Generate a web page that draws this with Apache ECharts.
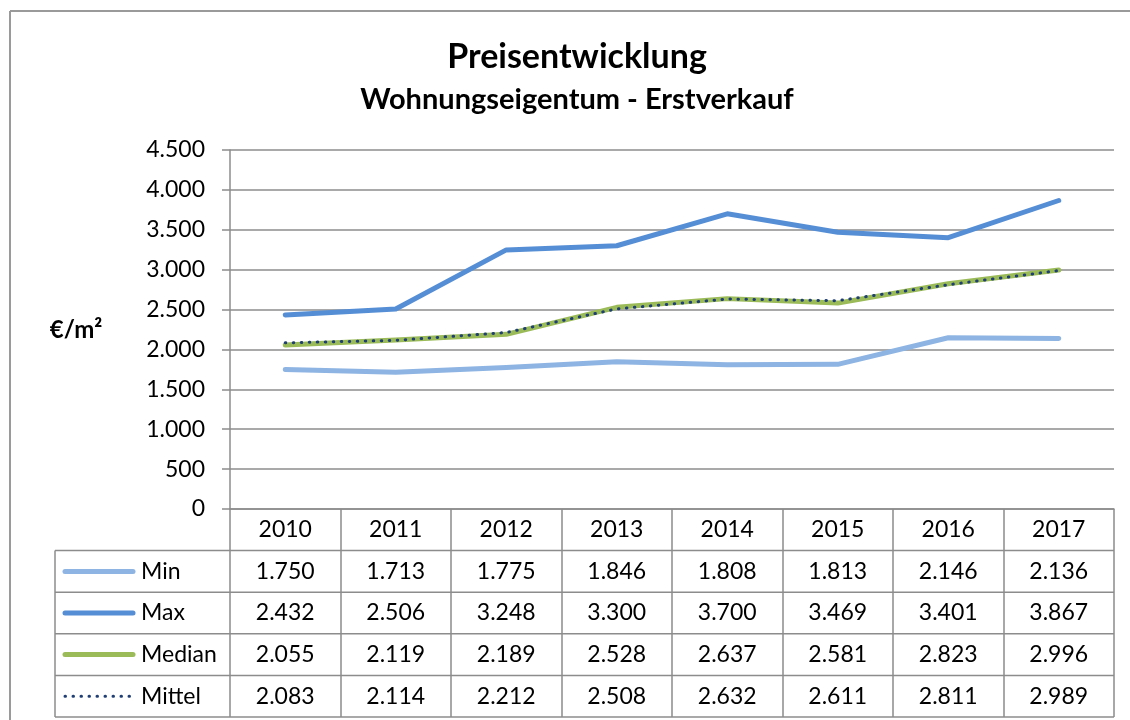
<!DOCTYPE html>
<html>
<head>
<meta charset="utf-8">
<script src="https://cdn.jsdelivr.net/npm/echarts@6/dist/echarts.min.js"></script>
<style>
  html, body { margin: 0; padding: 0; background: #fff; }
  #main { width: 1130px; height: 720px; }
</style>
</head>
<body>
<div id="main"></div>
<script>
// Price data (€/m²) for new-build condominiums, first sale
const years = ['2010', '2011', '2012', '2013', '2014', '2015', '2016', '2017'];
const minVals = [1750, 1713, 1775, 1846, 1808, 1813, 2146, 2136];
const maxVals = [2432, 2506, 3248, 3300, 3700, 3469, 3401, 3867];
const medianVals = [2055, 2119, 2189, 2528, 2637, 2581, 2823, 2996];
const mittelVals = [2083, 2114, 2212, 2508, 2632, 2611, 2811, 2989];
const seriesNames = ['Min', 'Max', 'Median', 'Mittel'];

const yMin = 0, yMax = 4500, yStep = 500;

const FONT = 'Lato, "Open Sans", "Liberation Sans", sans-serif';
const GRID_COLOR = '#8c8c8c';
const ROW_H = 41.6;
const TXT = 23;

// German thousands separator: 4500 -> "4.500"
function fmt(v) {
  return String(v).replace(/\B(?=(\d{3})+(?!\d))/g, '.');
}

const styles = {
  Min:    { color: '#8DB4E2', width: 5, dash: 'solid' },
  Max:    { color: '#558ED5', width: 5, dash: 'solid' },
  Median: { color: '#9BBB59', width: 5, dash: 'solid' },
  Mittel: { color: '#1F3F74', width: 3, dash: [0.5, 7.5] }
};
const valueRows = [minVals, maxVals, medianVals, mittelVals];

const chart = echarts.init(document.getElementById('main'), null, { renderer: 'canvas' });

const option = {
  animation: false,
  backgroundColor: '#fff',
  textStyle: { fontFamily: FONT },
  grid: { left: 230, right: 16, top: 150, bottom: 211, containLabel: false },
  xAxis: {
    type: 'category',
    data: years,
    boundaryGap: true,
    axisLine: { show: true, lineStyle: { color: GRID_COLOR, width: 1.5 } },
    axisTick: { show: true, inside: false, length: ROW_H * 5, lineStyle: { color: GRID_COLOR, width: 1.5 } },
    axisLabel: { margin: 9, fontSize: TXT, color: '#000', fontFamily: FONT },
    splitLine: { show: false }
  },
  yAxis: {
    type: 'value',
    min: yMin, max: yMax, interval: yStep,
    axisLine: { show: true, lineStyle: { color: GRID_COLOR, width: 1.5 } },
    axisTick: { show: true, inside: false, length: 8, lineStyle: { color: GRID_COLOR, width: 1.5 } },
    axisLabel: { margin: 25, fontSize: TXT, color: '#000', fontFamily: FONT, formatter: v => fmt(v) },
    splitLine: { show: true, lineStyle: { color: GRID_COLOR, width: 1.5 } }
  },
  series: seriesNames.map((name, i) => ({
    name,
    type: 'line',
    data: valueRows[i],
    symbol: 'none',
    smooth: false,
    z: 2 + i,
    lineStyle: {
      color: styles[name].color,
      width: styles[name].width,
      type: styles[name].dash,
      cap: 'round',
      join: 'round'
    },
    itemStyle: { color: styles[name].color }
  }))
};

chart.setOption(option);

// Data table under the plot, aligned to the category axis columns
function buildOverlay() {
  const plotBottom = chart.convertToPixel({ yAxisIndex: 0 }, yMin);
  const c0 = chart.convertToPixel({ xAxisIndex: 0 }, 0);
  const c1 = chart.convertToPixel({ xAxisIndex: 0 }, 1);
  const band = c1 - c0;
  const plotLeft = c0 - band / 2;
  const plotRight = plotLeft + band * years.length;
  const tableLeft = 55;
  const els = [];

  // frame of the chart area
  els.push({ type: 'line', shape: { x1: 10, y1: 11, x2: 1130, y2: 11 }, style: { stroke: '#9a9a9a', lineWidth: 2 }, silent: true });
  els.push({ type: 'line', shape: { x1: 10, y1: 11, x2: 10, y2: 720 }, style: { stroke: '#9a9a9a', lineWidth: 2 }, silent: true });

  // titles
  els.push({ type: 'text', x: 577, y: 57, style: { text: 'Preisentwicklung', font: 'bold 34px ' + FONT, fill: '#000', align: 'center', verticalAlign: 'middle' } });
  els.push({ type: 'text', x: 577, y: 100, style: { text: 'Wohnungseigentum - Erstverkauf', font: 'bold 29px ' + FONT, fill: '#000', align: 'center', verticalAlign: 'middle' } });
  // axis name
  els.push({ type: 'text', x: 76, y: 330, style: { text: '€/m²', font: 'bold 24px ' + FONT, fill: '#000', align: 'center', verticalAlign: 'middle' } });

  // row lines
  for (let k = 1; k <= seriesNames.length + 1; k++) {
    const y = plotBottom + ROW_H * k;
    els.push({ type: 'line', shape: { x1: tableLeft, y1: y, x2: plotRight, y2: y }, style: { stroke: GRID_COLOR, lineWidth: 1.5 }, silent: true });
  }
  els.push({ type: 'line', shape: { x1: tableLeft, y1: plotBottom + ROW_H, x2: tableLeft, y2: plotBottom + ROW_H * (seriesNames.length + 1) }, style: { stroke: GRID_COLOR, lineWidth: 1.5 }, silent: true });

  seriesNames.forEach((name, r) => {
    const yc = plotBottom + ROW_H * (r + 1) + ROW_H / 2;
    const st = styles[name];
    // legend key
    els.push({
      type: 'line',
      shape: { x1: 65, y1: yc, x2: 133, y2: yc },
      style: {
        stroke: st.color,
        lineWidth: name === 'Mittel' ? 3 : 5,
        lineCap: 'round',
        lineDash: name === 'Mittel' ? [0.5, 7.5] : null
      },
      silent: true
    });
    els.push({ type: 'text', x: 141, y: yc, style: { text: name, font: TXT + 'px ' + FONT, fill: '#000', align: 'left', verticalAlign: 'middle' } });
    // values
    valueRows[r].forEach((v, i) => {
      const xc = chart.convertToPixel({ xAxisIndex: 0 }, i);
      els.push({ type: 'text', x: xc, y: yc, style: { text: fmt(v), font: TXT + 'px ' + FONT, fill: '#000', align: 'center', verticalAlign: 'middle' } });
    });
  });

  chart.setOption({ graphic: { elements: els } });
}

buildOverlay();
</script>
</body>
</html>
